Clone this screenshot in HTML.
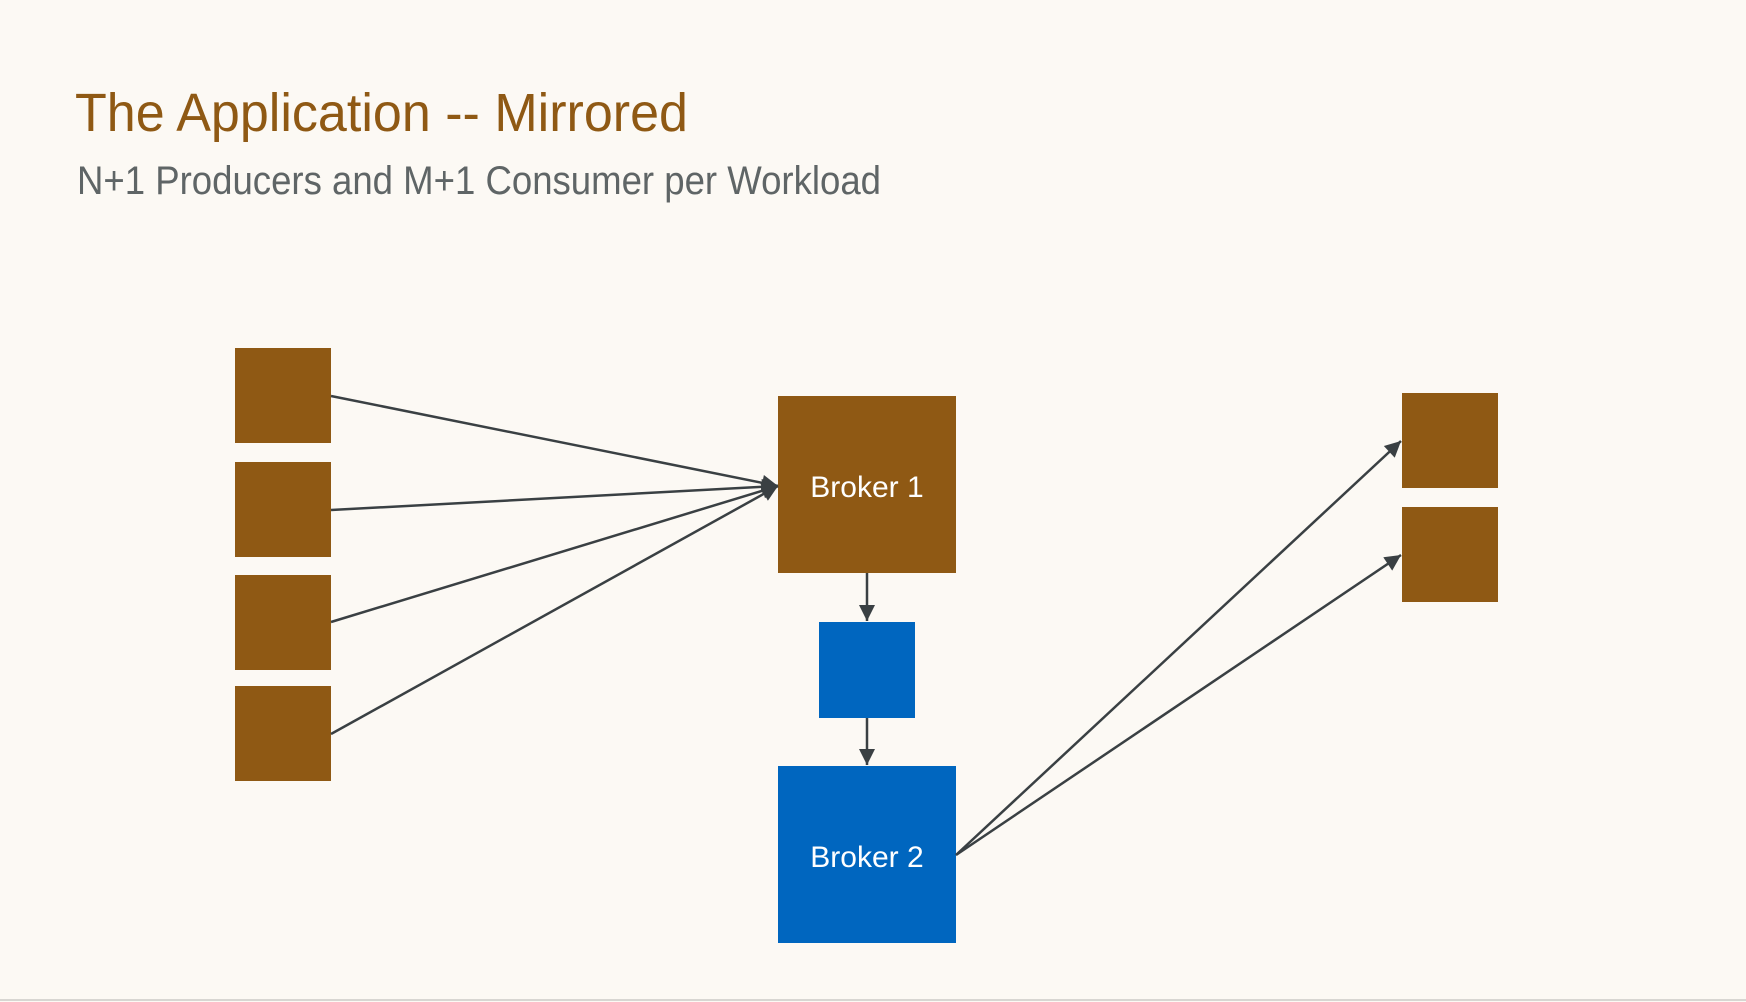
<!DOCTYPE html>
<html><head><meta charset="utf-8"><style>
html,body{margin:0;padding:0;background:#fcf9f4;}
svg{display:block;}
</style></head><body>
<svg width="1746" height="1002" viewBox="0 0 1746 1002" xmlns="http://www.w3.org/2000/svg">
<defs>
<marker id="ah" viewBox="0 0 10 10" refX="10" refY="5" markerWidth="18" markerHeight="16" orient="auto" markerUnits="userSpaceOnUse">
<path d="M0,0 L10,5 L0,10 z" fill="#3a4043"/>
</marker>
</defs>
<rect width="1746" height="1002" fill="#fcf9f4"/>
<line x1="0" y1="1000" x2="1746" y2="1000" stroke="#d8d6d2" stroke-width="2"/>
<text x="75" y="131" font-family="Liberation Sans, sans-serif" font-size="54" fill="#8f5914" textLength="613" lengthAdjust="spacingAndGlyphs">The Application -- Mirrored</text>
<text x="77" y="194" font-family="Liberation Sans, sans-serif" font-size="40" fill="#5f6566" textLength="804" lengthAdjust="spacingAndGlyphs">N+1 Producers and M+1 Consumer per Workload</text>
<g fill="#8f5914">
<rect x="235" y="348" width="96" height="95"/>
<rect x="235" y="462" width="96" height="95"/>
<rect x="235" y="575" width="96" height="95"/>
<rect x="235" y="686" width="96" height="95"/>
<rect x="778" y="396" width="178" height="177"/>
<rect x="1402" y="393" width="96" height="95"/>
<rect x="1402" y="507" width="96" height="95"/>
</g>
<g fill="#0066bf">
<rect x="819" y="622" width="96" height="96"/>
<rect x="778" y="766" width="178" height="177"/>
</g>
<text x="867" y="497" text-anchor="middle" font-family="Liberation Sans, sans-serif" font-size="30" fill="#ffffff">Broker 1</text>
<text x="867" y="867" text-anchor="middle" font-family="Liberation Sans, sans-serif" font-size="30" fill="#ffffff">Broker 2</text>
<g stroke="#3a4043" stroke-width="2.5" fill="none" marker-end="url(#ah)">
<line x1="331" y1="396" x2="778" y2="486"/>
<line x1="331" y1="510" x2="778" y2="486"/>
<line x1="331" y1="622" x2="778" y2="486"/>
<line x1="331" y1="734" x2="778" y2="486"/>
<line x1="867" y1="573" x2="867" y2="621"/>
<line x1="867" y1="718" x2="867" y2="765"/>
<line x1="956" y1="855" x2="1401" y2="441"/>
<line x1="956" y1="855" x2="1401" y2="555"/>
</g>
</svg>
</body></html>
